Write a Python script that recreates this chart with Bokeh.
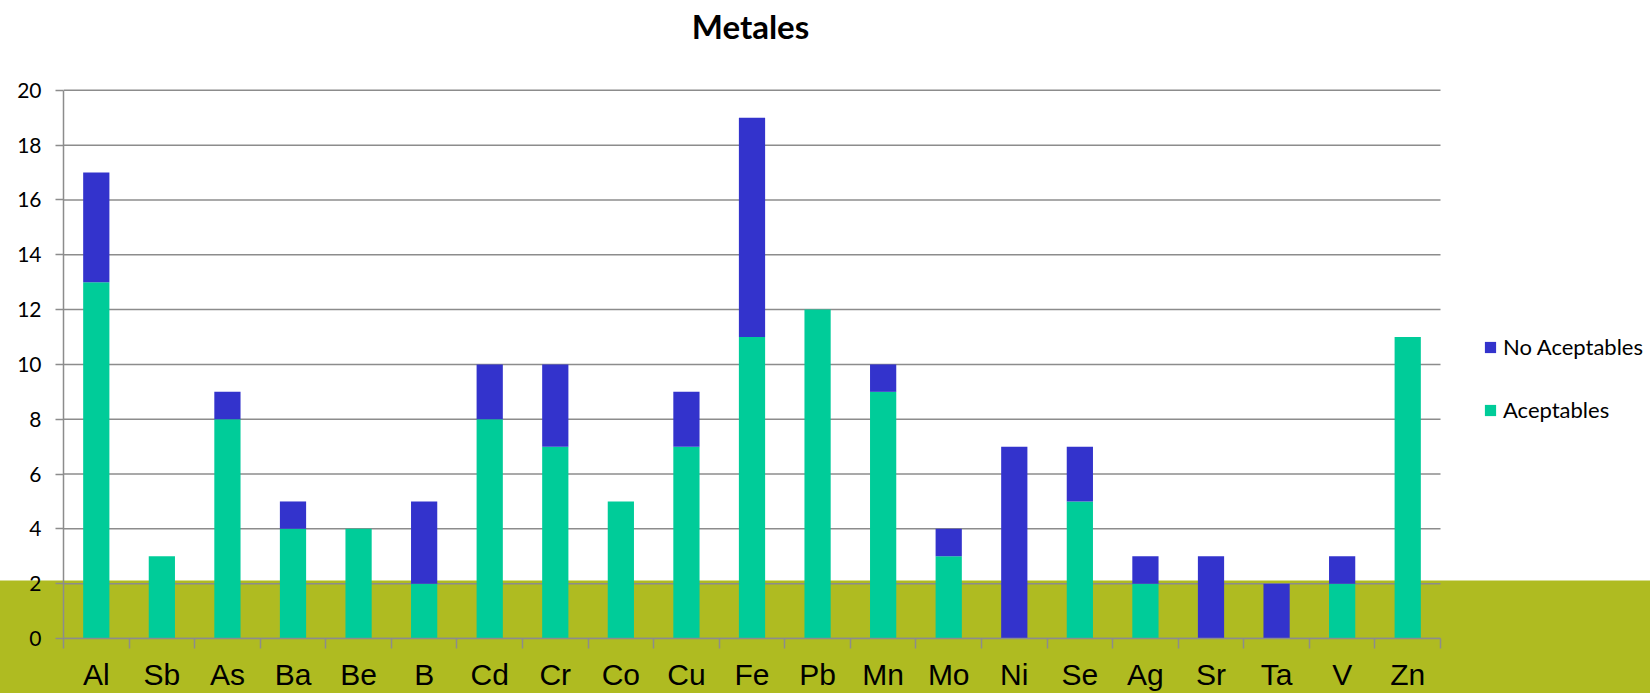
from bokeh.plotting import figure
from bokeh.models import (ColumnDataSource, FixedTicker, Legend, LegendItem,
                          GlobalInlineStyleSheet, Range1d, Label)
from bokeh.embed import file_html
from bokeh.resources import INLINE

metals = ["Al", "Sb", "As", "Ba", "Be", "B", "Cd", "Cr", "Co", "Cu", "Fe",
          "Pb", "Mn", "Mo", "Ni", "Se", "Ag", "Sr", "Ta", "V", "Zn"]
aceptables = [13, 3, 8, 4, 4, 2, 8, 7, 5, 7, 11, 12, 9, 3, 0, 5, 2, 0, 0, 2, 11]
no_aceptables = [4, 0, 1, 1, 0, 3, 2, 3, 0, 2, 8, 0, 1, 1, 7, 2, 1, 3, 2, 1, 0]
y_ticks = [0, 2, 4, 6, 8, 10, 12, 14, 16, 18, 20]

GREEN = "#00cc99"
BLUE = "#3333cc"
GRID = "#8c8c8c"
BAND = "#afbb21"

n = len(metals)
y_max = y_ticks[-1]

W, H = 1650, 693
LEFT, BOTTOM = 63, 54
PLOT_RIGHT = 1440          # pixel where the category axis ends
PLOT_TOP = 90              # pixel of the top gridline
frame_w = W - LEFT
frame_h = H - BOTTOM
x_end = n * frame_w / (PLOT_RIGHT - LEFT)
y_end = y_max * frame_h / (frame_h - PLOT_TOP)

src = ColumnDataSource(dict(
    x=[i + 0.5 for i in range(n)],
    name=metals,
    Aceptables=aceptables,
    NoAceptables=no_aceptables,
))

p = figure(width=W, height=H, output_backend="svg", toolbar_location=None,
           x_range=Range1d(0, x_end), y_range=Range1d(0, y_end),
           min_border_left=LEFT, min_border_right=0, min_border_top=0,
           min_border_bottom=BOTTOM, title=None)

p.stylesheets = [GlobalInlineStyleSheet(
    css="html{background:linear-gradient(to bottom,#ffffff 580px,%s 581px);}" % BAND)]
p.background_fill_alpha = 0
p.border_fill_alpha = 0
p.outline_line_color = None
p.xgrid.grid_line_color = None
p.ygrid.grid_line_color = None

# horizontal gridlines, limited to the category span
p.segment(x0=[0] * len(y_ticks), x1=[n] * len(y_ticks), y0=y_ticks, y1=y_ticks,
          line_color=GRID, line_width=1.5)

r = p.vbar_stack(["Aceptables", "NoAceptables"], x="x", width=0.4, source=src,
                 color=[GREEN, BLUE], line_color=None)

# x axis
xa = p.xaxis[0]
xa.bounds = (0, n)
xa.ticker = FixedTicker(ticks=[i + 0.5 for i in range(n)], minor_ticks=list(range(n + 1)))
xa.major_label_overrides = {i + 0.5: metals[i] for i in range(n)}
xa.major_tick_out = 0
xa.major_tick_in = 0
xa.minor_tick_out = 10
xa.minor_tick_in = 0
xa.minor_tick_line_color = GRID
xa.minor_tick_line_width = 1.5
xa.axis_line_color = GRID
xa.axis_line_width = 1.5
xa.major_label_text_font = "Liberation Sans"
xa.major_label_text_font_size = "30px"
xa.major_label_text_color = "#000000"
xa.major_label_standoff = 9

# y axis
ya = p.yaxis[0]
ya.bounds = (0, y_max)
ya.ticker = FixedTicker(ticks=y_ticks)
ya.major_tick_out = 8
ya.major_tick_in = 0
ya.minor_tick_line_color = None
ya.major_tick_line_color = GRID
ya.major_tick_line_width = 1.5
ya.axis_line_color = GRID
ya.axis_line_width = 1.5
ya.major_label_text_font = "Lato"
ya.major_label_text_font_size = "21px"
ya.major_label_text_color = "#000000"
ya.major_label_standoff = 14

# title
title = Label(x=750 - LEFT, y=frame_h - 26, x_units="screen", y_units="screen",
              text="Metales", text_align="center", text_baseline="alphabetic",
              text_font="Lato", text_font_size="33px", text_font_style="bold",
              text_color="#000000")
p.add_layout(title)

legend = Legend(items=[LegendItem(label="No Aceptables", renderers=[r[1]]),
                       LegendItem(label="Aceptables", renderers=[r[0]])],
                location=(1483 - LEFT, frame_h - 424), orientation="vertical",
                glyph_width=14, glyph_height=14, label_height=20,
                spacing=36, padding=0, margin=0, label_standoff=6,
                label_text_font="Lato", label_text_font_size="22px",
                label_text_color="#000000",
                border_line_color=None, background_fill_alpha=0)
p.add_layout(legend, "center")

open("out.html", "w").write(file_html(p, INLINE))
